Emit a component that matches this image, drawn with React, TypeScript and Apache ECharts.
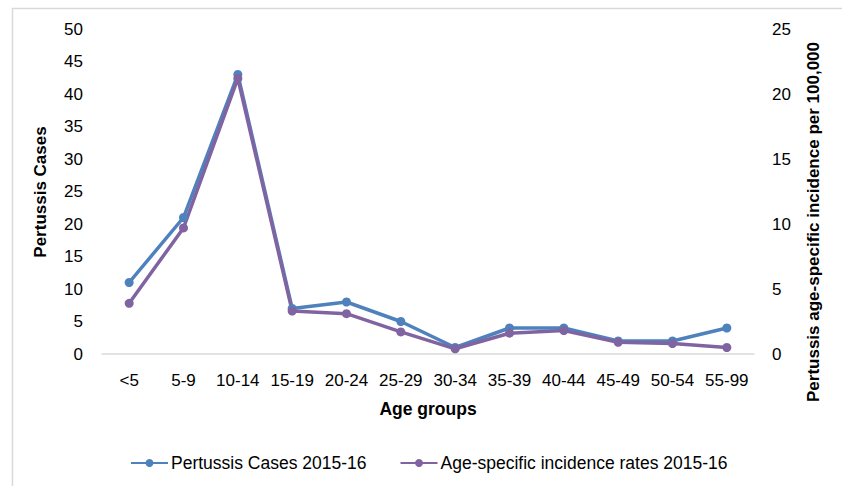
import React, { useEffect, useRef } from "react";
import * as echarts from "echarts";

const ageGroups = ["<5", "5-9", "10-14", "15-19", "20-24", "25-29", "30-34", "35-39", "40-44", "45-49", "50-54", "55-99"];
const pertussisCases = [11, 21, 43, 7, 8, 5, 1, 4, 4, 2, 2, 4];
const incidenceRates = [3.9, 9.7, 21.2, 3.3, 3.1, 1.7, 0.4, 1.6, 1.8, 0.9, 0.8, 0.5];

const casesName = "Pertussis Cases 2015-16";
const ratesName = "Age-specific incidence rates 2015-16";

const FONT = "'Liberation Sans', Arial, sans-serif";
const BLUE = "#4F81BD";
const PURPLE = "#8064A2";

export default function App() {
  const ref = useRef<HTMLDivElement>(null);

  useEffect(() => {
    if (!ref.current) return;
    const chart = echarts.init(ref.current, undefined, { renderer: "svg" });
    const tickLabel = { color: "#000", fontFamily: FONT, fontSize: 17 };
    chart.setOption({
      animation: false,
      backgroundColor: "#fff",
      grid: { left: 102, right: 88, top: 29, bottom: 132, containLabel: false },
      legend: {
        left: 125,
        top: 449,
        itemWidth: 37,
        itemHeight: 10,
        itemGap: 33,
        textStyle: { color: "#000", fontFamily: FONT, fontSize: 17.5, padding: [0, 0, 0, -2] },
        data: [casesName, ratesName],
      },
      xAxis: {
        type: "category",
        data: ageGroups,
        boundaryGap: true,
        axisLine: { lineStyle: { color: "#d9d9d9", width: 1.5 } },
        axisTick: { show: false },
        axisLabel: { ...tickLabel, margin: 18, interval: 0 },
      },
      yAxis: [
        {
          type: "value",
          min: 0,
          max: 50,
          interval: 5,
          axisLine: { show: false },
          axisTick: { show: false },
          splitLine: { show: false },
          axisLabel: { ...tickLabel, margin: 19 },
        },
        {
          type: "value",
          min: 0,
          max: 25,
          interval: 5,
          axisLine: { show: false },
          axisTick: { show: false },
          splitLine: { show: false },
          axisLabel: { ...tickLabel, margin: 18 },
        },
      ],
      series: [
        {
          name: casesName,
          type: "line",
          yAxisIndex: 0,
          data: pertussisCases,
          color: BLUE,
          symbol: "circle",
          symbolSize: 9,
          lineStyle: { width: 3.5, color: BLUE },
          itemStyle: { color: BLUE },
        },
        {
          name: ratesName,
          type: "line",
          yAxisIndex: 1,
          data: incidenceRates,
          color: PURPLE,
          symbol: "circle",
          symbolSize: 9,
          lineStyle: { width: 3.5, color: PURPLE },
          itemStyle: { color: PURPLE },
        },
      ],
      graphic: [
        {
          type: "rect",
          silent: true,
          z: -1,
          shape: { x: 12.5, y: 8.5, width: 900, height: 600 },
          style: { fill: "none", stroke: "#d9d9d9", lineWidth: 1.5 },
        },
        {
          type: "text",
          x: 40,
          y: 192,
          rotation: Math.PI / 2,
          style: {
            text: "Pertussis Cases",
            font: `bold 17px ${FONT}`,
            fill: "#000",
            align: "center",
            verticalAlign: "middle",
          },
        },
        {
          type: "text",
          x: 813,
          y: 222,
          rotation: Math.PI / 2,
          style: {
            text: "Pertussis age-specific incidence per 100,000",
            font: `bold 17px ${FONT}`,
            fill: "#000",
            align: "center",
            verticalAlign: "middle",
          },
        },
        {
          type: "text",
          x: 428,
          y: 409,
          style: {
            text: "Age groups",
            font: `bold 17.5px ${FONT}`,
            fill: "#000",
            align: "center",
            verticalAlign: "middle",
          },
        },
      ],
    });
    return () => chart.dispose();
  }, []);

  return (
    <div
      ref={ref}
      style={{ position: "fixed", left: 0, top: 0, width: 842, height: 486 }}
    />
  );
}
